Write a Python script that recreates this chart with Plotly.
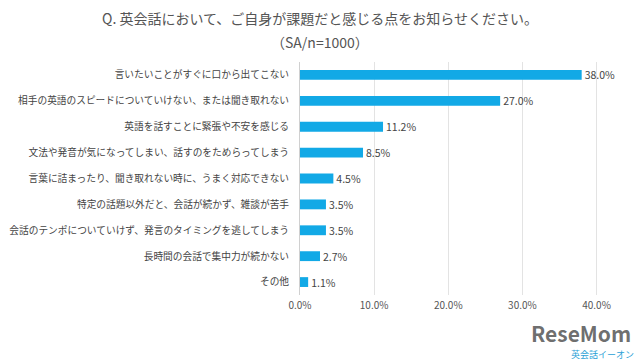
import plotly.graph_objects as go

categories = [
    "言いたいことがすぐに口から出てこない",
    "相手の英語のスピードについていけない、または聞き取れない",
    "英語を話すことに緊張や不安を感じる",
    "文法や発音が気になってしまい、話すのをためらってしまう",
    "言葉に詰まったり、聞き取れない時に、うまく対応できない",
    "特定の話題以外だと、会話が続かず、雑談が苦手",
    "会話のテンポについていけず、発言のタイミングを逃してしまう",
    "長時間の会話で集中力が続かない",
    "その他",
]
values = [38.0, 27.0, 11.2, 8.5, 4.5, 3.5, 3.5, 2.7, 1.1]
tick_vals = [0, 10, 20, 30, 40]
tick_text = ["0.0%", "10.0%", "20.0%", "30.0%", "40.0%"]

font_family = "Noto Sans CJK JP, Noto Sans, sans-serif"

L, R, T, B = 300, 42, 62, 65
W, H = 640, 360
pw = W - L - R
ph = H - T - B


def px(x):
    return (x - L) / pw


def py(y):
    return (H - B - y) / ph


fig = go.Figure(go.Bar(
    x=values,
    y=categories,
    orientation="h",
    marker=dict(color="#12A9E6", line=dict(width=0)),
    width=0.38,
    text=[f"{v:.1f}%" for v in values],
    textposition="outside",
    constraintext="none",
    textfont=dict(size=10.5, color="#444444", family=font_family),
    cliponaxis=False,
))

fig.update_layout(
    width=W, height=H,
    margin=dict(l=L, r=R, t=T, b=B, autoexpand=False),
    paper_bgcolor="white", plot_bgcolor="white",
    font=dict(family=font_family, color="#444444"),
    showlegend=False,
    annotations=[
        dict(text="Q. 英会話において、ご自身が課題だと感じる点をお知らせください。",
             x=px(320), y=py(18), xref="paper", yref="paper", showarrow=False,
             xanchor="center", yanchor="middle",
             font=dict(size=14, color="#555555", family=font_family)),
        dict(text="（SA/n=1000）",
             x=px(320), y=py(42), xref="paper", yref="paper", showarrow=False,
             xanchor="center", yanchor="middle",
             font=dict(size=14, color="#555555", family=font_family)),
        dict(text="<b>ReseMom</b>", x=px(529), y=py(333), xref="paper", yref="paper",
             showarrow=False, xanchor="left", yanchor="middle",
             font=dict(size=21, color="rgba(85,85,85,0.85)", family=font_family)),
        dict(text="英会話イーオン", x=px(602), y=py(354), xref="paper", yref="paper",
             showarrow=False, xanchor="center", yanchor="middle",
             font=dict(size=9, color="#2a9fd6", family=font_family)),
    ],
)

fig.update_xaxes(
    range=[0, 40.2],
    tickvals=tick_vals, ticktext=tick_text,
    showgrid=True, gridcolor="#e3e3e3", gridwidth=1,
    zeroline=False, showline=False,
    tickfont=dict(size=10, color="#555555", family=font_family),
    ticks="", ticklabelstandoff=3,
    automargin=False,
)
fig.update_yaxes(
    autorange="reversed",
    showline=True, linecolor="#d0d0d0", linewidth=1,
    showgrid=False, ticks="",
    tickfont=dict(size=9.7, color="#444444", family=font_family),
    ticklabelstandoff=8,
    automargin=False,
)

fig.write_html(
    "out.html",
    config={"displayModeBar": False},
    post_script="document.body.style.margin='0px';document.body.style.overflow='hidden';",
)
